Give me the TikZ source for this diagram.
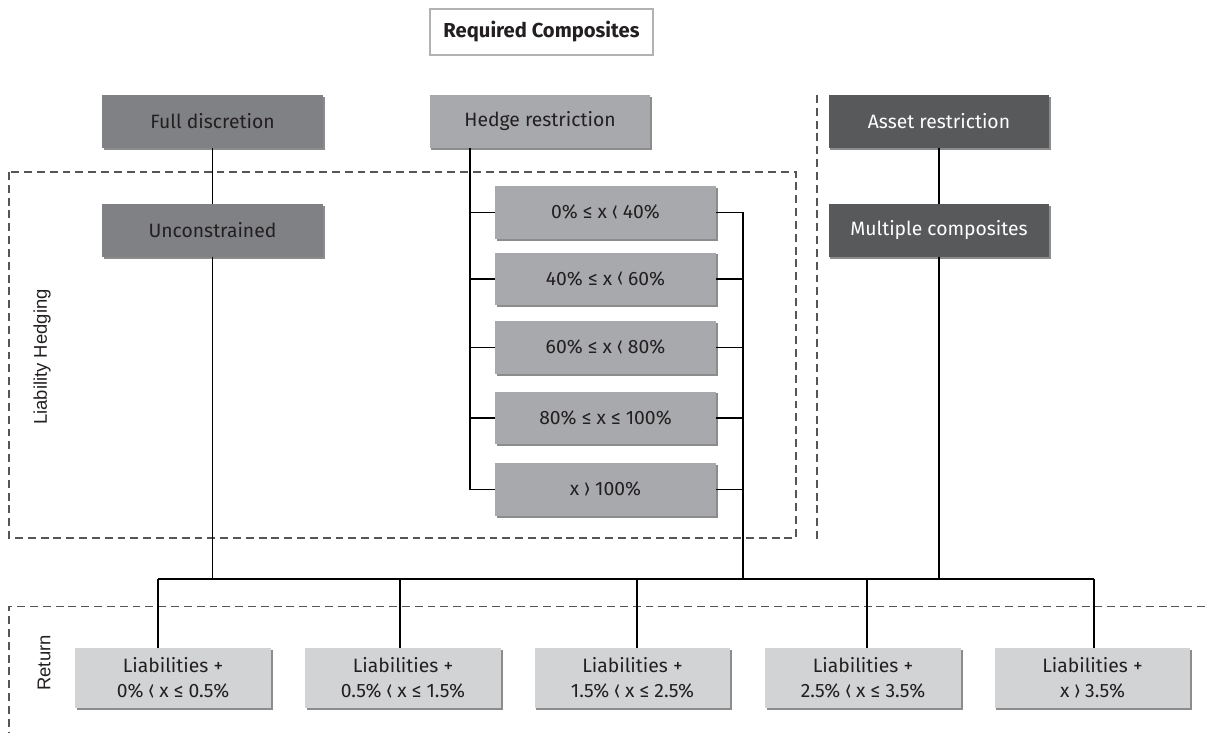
\documentclass[tikz,border=0pt]{standalone}
\usepackage{fontspec}
\setmainfont{Fira Sans}
\newfontfamily\labelfont{Liberation Sans}
\usetikzlibrary{shadows}
\definecolor{txt}{HTML}{231F20}
\definecolor{midgray}{HTML}{808184}
\definecolor{lightgray}{HTML}{A7A9AC}
\definecolor{darkgray}{HTML}{58595B}
\definecolor{palegray}{HTML}{D1D3D4}
\definecolor{dashgray}{HTML}{555555}
\newcommand{\lang}{\raisebox{-0.15ex}{\scalebox{0.85}[1.45]{‹}}}
\newcommand{\rang}{\raisebox{-0.15ex}{\scalebox{0.85}[1.45]{›}}}
\begin{document}
\begin{tikzpicture}[x=0.02cm,y=-0.02cm,
  box/.style={inner sep=0pt, outer sep=0pt, align=center, text=txt,
    font=\fontsize{11}{14.5}\selectfont,
    drop shadow={shadow xshift=1pt, shadow yshift=-1pt, fill=black, opacity=0.45}},
  topbox/.style={box, minimum width=4.42cm, minimum height=1.06cm},
  midbox/.style={topbox, fill=midgray},
  litbox/.style={topbox, fill=lightgray},
  drkbox/.style={topbox, fill=darkgray, text=white},
  hbox/.style={box, fill=lightgray, minimum width=4.42cm, minimum height=1.06cm},
  rbox/.style={box, fill=palegray, minimum width=3.92cm, minimum height=1.2cm},
  conn/.style={draw=black, line width=0.9pt},
  dsh/.style={draw=dashgray, line width=0.6pt, dash pattern=on 4.5pt off 2.8pt},
  sidelabel/.style={rotate=90, text=txt, font=\labelfont\fontsize{10.5}{12}\selectfont}]
\useasboundingbox (0,0) rectangle (1205,733);

% dashed groupings
\draw[dsh] (9,172) rectangle (796,538);
\draw[dsh] (817,95) -- (817,540);
\draw[dsh] (1205,606.5) -- (9,606.5) -- (9,733);

% title
\node[draw=gray!60, line width=0.8pt, fill=white, inner sep=0pt, outer sep=0pt,
  minimum width=4.46cm, minimum height=0.92cm, text=txt,
  font=\fontsize{11.5}{14}\selectfont\bfseries] (req) at (541.5,32) {Required Composites};

% top row
\node[midbox] (full) at (212.5,121.5) {Full discretion};
\node[litbox] (hedge) at (540,121.5) {Hedge restriction};
\node[drkbox] (asset) at (939,121.5) {Asset restriction};
\node[midbox] (uncon) at (212.5,230.5) {Unconstrained};
\node[drkbox] (multi) at (939,230.5) {Multiple composites};

% hedge ranges
\node[hbox] (h1) at (605.5,212.5) {0\% ≤ x \lang{} 40\%};
\node[hbox] (h2) at (605.5,279) {40\% ≤ x \lang{} 60\%};
\node[hbox] (h3) at (605.5,347.5) {60\% ≤ x \lang{} 80\%};
\node[hbox] (h4) at (605.5,418) {80\% ≤ x ≤ 100\%};
\node[hbox] (h5) at (605.5,489.5) {x \rang{} 100\%};

% return boxes
\node[rbox] (r1) at (173,678) {Liabilities +\\0\% \lang{} x ≤ 0.5\%};
\node[rbox] (r2) at (403,678) {Liabilities +\\0.5\% \lang{} x ≤ 1.5\%};
\node[rbox] (r3) at (632.5,678) {Liabilities +\\1.5\% \lang{} x ≤ 2.5\%};
\node[rbox] (r4) at (863,678) {Liabilities +\\2.5\% \lang{} x ≤ 3.5\%};
\node[rbox] (r5) at (1092.5,678) {Liabilities +\\x \rang{} 3.5\%};

% side labels
\node[sidelabel] (lh) at (42,357) {Liability Hedging};
\node[sidelabel] (ret) at (44,663) {Return};

% coordinates
\coordinate (lbus) at (470,0);
\coordinate (rbus) at (743,579);
\coordinate (d1) at (158,579);
\coordinate (d2) at (400,579);
\coordinate (d3) at (637,579);
\coordinate (d4) at (867,579);
\coordinate (d5) at (1094,579);

% connectors
\draw[conn] (full.south) -- (uncon.north);
\draw[conn] (asset.south) -- (multi.north);
\draw[conn] (hedge.south -| lbus) |- (h5.west);
\foreach \h in {h1,h2,h3,h4} \draw[conn] (lbus |- \h.west) -- (\h.west);
\draw[conn] (h1.east) -| (rbus);
\foreach \h in {h2,h3,h4,h5} \draw[conn] (\h.east) -- (\h.east -| rbus);
\draw[conn] (uncon.south) -- (uncon.south |- rbus);
\draw[conn] (multi.south) -- (multi.south |- rbus);
\draw[conn] (d1) -- (d5);
\draw[conn] (d1) -- (d1 |- r1.north);
\draw[conn] (d2) -- (d2 |- r2.north);
\draw[conn] (d3) -- (d3 |- r3.north);
\draw[conn] (d4) -- (d4 |- r4.north);
\draw[conn] (d5) -- (d5 |- r5.north);
\end{tikzpicture}
\end{document}
